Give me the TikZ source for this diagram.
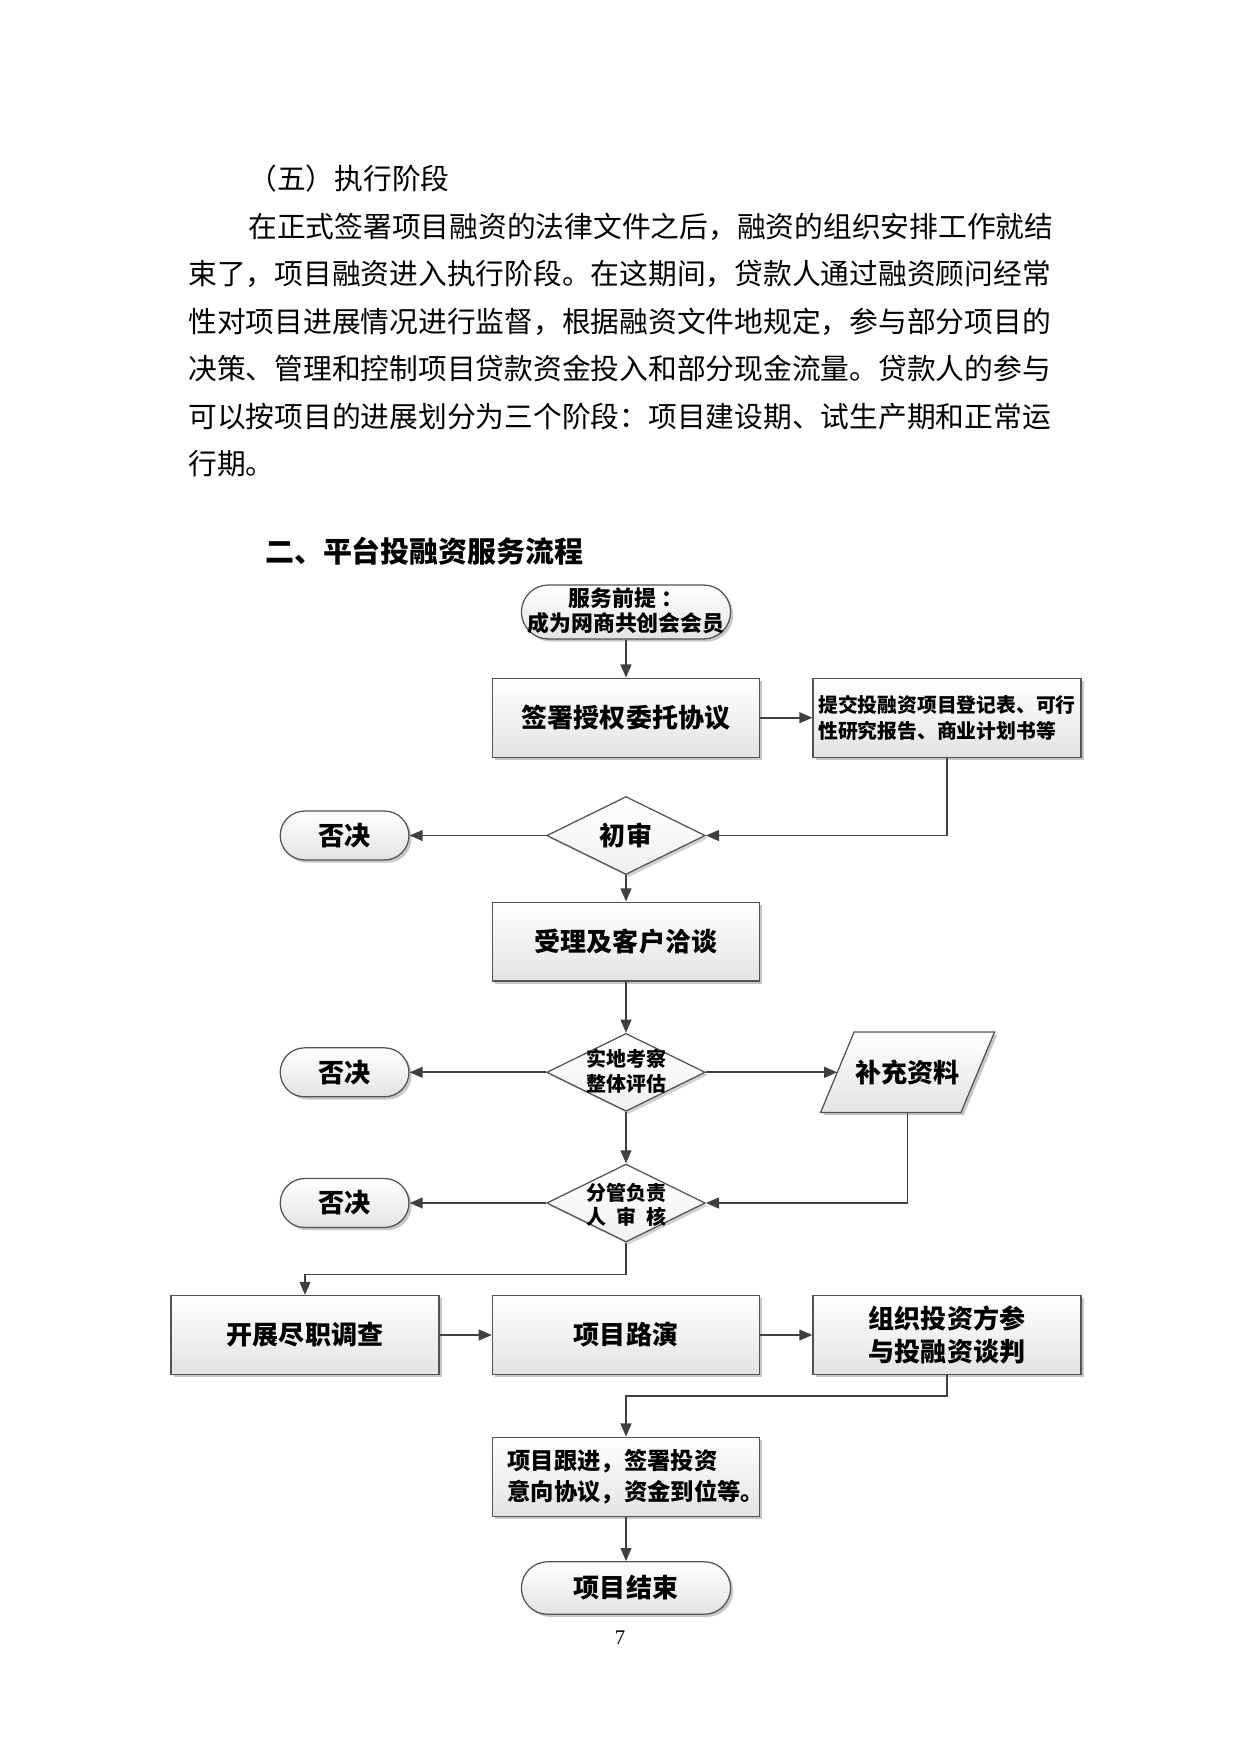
\documentclass[tikz,border=0pt]{standalone}
\usepackage{fontspec}
\setmainfont{Noto Sans CJK SC}
\newfontfamily\numfont{Liberation Serif}
\usetikzlibrary{shapes.geometric,shapes.misc,arrows.meta,shadows,calc}
\begin{document}
\begin{tikzpicture}[x=0.48pt,y=-0.48pt,
  bodytext/.style={anchor=west,inner sep=0pt,font=\fontsize{13.8}{16}\selectfont},
  shade/.style={top color=white,bottom color=gray!22,
    drop shadow={shadow xshift=1.3pt,shadow yshift=-1.3pt,fill=black,opacity=0.22}},
  box/.style={rectangle,draw=gray!65!black,line width=0.6pt,shade,
    minimum width=128.2pt,minimum height=37.9pt,inner sep=2pt,align=center,
    font=\bfseries\fontsize{12.5}{15.6}\selectfont},
  term/.style={rounded rectangle,draw=gray!65!black,line width=0.6pt,shade,
    inner sep=1pt,align=center,font=\bfseries\fontsize{12.5}{15}\selectfont},
  dia/.style={diamond,draw=gray!65!black,line width=0.6pt,top color=white,bottom color=gray!12,
    drop shadow={shadow xshift=1.3pt,shadow yshift=-1.3pt,fill=black,opacity=0.18},
    minimum width=76.1pt,minimum height=37.4pt,inner sep=0pt},
  smalltext/.style={align=center,inner sep=0pt,font=\bfseries\fontsize{9.6}{11.8}\selectfont},
  midtext/.style={align=center,inner sep=0pt,font=\bfseries\fontsize{12.5}{15}\selectfont},
  arr/.style={draw=black!75,line width=0.85pt,-{Triangle[length=6.3pt,width=5.2pt]}},
]
\useasboundingbox[fill=white] (0,0) rectangle (1240,1754);

% ---------- body text ----------
\node[bodytext] (h5) at (248,178.7) {（五）执行阶段};
\node[bodytext] (l1) at (248,226.8) {在正式签署项目融资的法律文件之后，融资的组织安排工作就结};
\node[bodytext] (l2) at (188,273.7) {束了，项目融资进入执行阶段。在这期间，贷款人通过融资顾问经常};
\node[bodytext] (l3) at (188,321.7) {性对项目进展情况进行监督，根据融资文件地规定，参与部分项目的};
\node[bodytext] (l4) at (188,368.6) {决策、管理和控制项目贷款资金投入和部分现金流量。贷款人的参与};
\node[bodytext] (l5) at (188,416.6) {可以按项目的进展划分为三个阶段：项目建设期、试生产期和正常运};
\node[bodytext] (l6) at (188,463.6) {行期。};
\node[bodytext,font=\bfseries\fontsize{13.9}{16}\selectfont] (h2) at (264.7,550.7) {二、平台投融资服务流程};

% ---------- flowchart nodes ----------
\node[term,minimum width=102.4pt,minimum height=25.9pt] (t1) at (626,612) {};
\node[align=center,inner sep=0pt,font=\bfseries\fontsize{10.5}{12.3}\selectfont] (t1t) at (626,611) {服务前提 ：\\成为网商共创会会员};
\node[box] (sign) at (626,717.7) {签署授权委托协议};
\node[box,minimum width=128.6pt,align=left,font=\bfseries\fontsize{9.5}{12.3}\selectfont] (submit) at (947,717.7) {提交投融资项目登记表、可行\\性研究报告、商业计划书等};

\node[dia] (d1) at (626,835.5) {};
\node[midtext] (d1t) at (626,835.5) {初审};
\node[term,minimum width=63.8pt,minimum height=23.5pt] (no1) at (344.6,835.5) {否决};

\node[box] (accept) at (626,941.6) {受理及客户洽谈};

\node[dia] (d2) at (626,1072.3) {};
\node[smalltext] (d2t) at (626,1071.5) {实地考察\\整体评估};
\node[term,minimum width=63.8pt,minimum height=23.5pt] (no2) at (344.6,1072.3) {否决};

\node[rectangle,minimum width=67pt,minimum height=38.2pt,inner sep=0pt] (bc) at (907.5,1072.3) {};
\path[draw=gray!65!black,line width=0.6pt,shade]
  ($(bc.north west)+(16.75,0)$) -- ($(bc.north east)+(16.75,0)$) --
  ($(bc.south east)+(-16.75,0)$) -- ($(bc.south west)+(-16.75,0)$) -- cycle;
\node[midtext] (bct) at (907.5,1072.3) {补充资料};

\node[dia] (d3) at (626,1203) {};
\node[smalltext] (d3t) at (626,1205) {分管负责\\\makebox[4em][s]{人\hfill 审\hfill 核}};
\node[term,minimum width=63.8pt,minimum height=23.5pt] (no3) at (344.6,1203) {否决};

\node[box,minimum width=128.6pt] (due) at (305,1335) {开展尽职调查};
\node[box] (road) at (626,1335) {项目路演};
\node[box,minimum width=128.6pt] (org) at (947,1335) {组织投资方参\\与投融资谈判};

\node[box] (follow) at (626,1476.7) {};
\node[anchor=west,align=left,inner sep=0pt,font=\bfseries\fontsize{11.2}{15}\selectfont] (followt) at (507,1476.7) {项目跟进，签署投资\\意向协议，资金到位等。};

\node[term,minimum width=102.4pt,minimum height=25.2pt] (end) at (626,1588) {项目结束};

\node[inner sep=0pt,font=\numfont\fontsize{10}{12}\selectfont] (pg) at (620,1637.5) {7};

% ---------- connectors ----------
\coordinate (k1) at (626,1274.5);
\coordinate (k2) at (947,1396);
\draw[arr] (t1.south) -- (sign.north);
\draw[arr] (sign.east) -- (submit.west);
\draw[arr] (submit.south) |- (d1.east);
\draw[arr] (d1.west) -- (no1.east);
\draw[arr] (d1.south) -- (accept.north);
\draw[arr] (accept.south) -- (d2.north);
\draw[arr] (d2.west) -- (no2.east);
\draw[arr] (d2.east) -- (bc.west);
\draw[arr] (d2.south) -- (d3.north);
\draw[arr] (bc.south) |- (d3.east);
\draw[arr] (d3.west) -- (no3.east);
\draw[arr] (d3.south) -- (k1) -| (due.north);
\draw[arr] (due.east) -- (road.west);
\draw[arr] (road.east) -- (org.west);
\draw[arr] (org.south) -- (k2) -| (follow.north);
\draw[arr] (follow.south) -- (end.north);
\end{tikzpicture}
\end{document}
